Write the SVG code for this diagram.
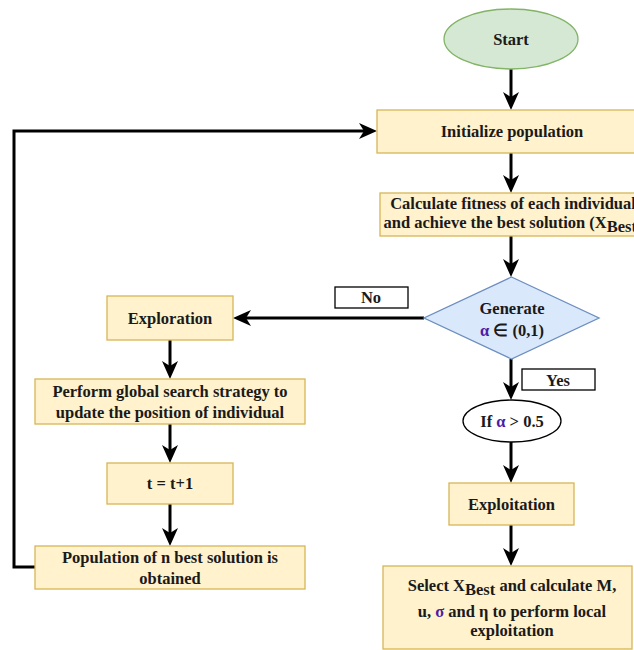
<svg xmlns="http://www.w3.org/2000/svg" width="634" height="650" viewBox="0 0 634 650" font-family="Liberation Serif, serif" font-weight="bold">
<style>
.box{fill:#fff2cc;stroke:#d6b656;stroke-width:1.3}
.lbl{fill:#ffffff;stroke:#000;stroke-width:1.3}
.t{font-family:'Liberation Serif',serif;font-weight:bold;font-size:16.5px;fill:#1a1a1a;text-anchor:middle}
.p{fill:#4c1ca8}
.c{fill:none;stroke:#000;stroke-width:3}
</style>
<defs>
<marker id="ah" markerUnits="userSpaceOnUse" markerWidth="18" markerHeight="16" refX="8" refY="8" orient="auto" viewBox="0 0 18 16">
<path d="M0,0 L18,8 L0,16 L5,8 Z" fill="#000"/>
</marker>
</defs>
<rect width="634" height="650" fill="#fff"/>
<g id="connectors">
<line class="c" x1="511" y1="69" x2="511" y2="100" marker-end="url(#ah)"/>
<line class="c" x1="511" y1="153" x2="511" y2="183" marker-end="url(#ah)"/>
<line class="c" x1="511" y1="236" x2="511" y2="267" marker-end="url(#ah)"/>
<line class="c" x1="424" y1="318" x2="243" y2="318" marker-end="url(#ah)"/>
<line class="c" x1="511" y1="359" x2="511" y2="390" marker-end="url(#ah)"/>
<line class="c" x1="511" y1="442" x2="511" y2="473" marker-end="url(#ah)"/>
<line class="c" x1="511" y1="525" x2="511" y2="556" marker-end="url(#ah)"/>
<line class="c" x1="170" y1="340" x2="170" y2="369" marker-end="url(#ah)"/>
<line class="c" x1="170" y1="424" x2="170" y2="453" marker-end="url(#ah)"/>
<line class="c" x1="170" y1="504" x2="170" y2="536" marker-end="url(#ah)"/>
<polyline class="c" points="35,567 14,567 14,131 367,131" marker-end="url(#ah)"/>
</g>
<g id="start">
<ellipse cx="511" cy="39" rx="67" ry="30" fill="#d5e8d4" stroke="#82b366" stroke-width="1.3"/>
<text class="t" x="511" y="45">Start</text>
</g>
<g id="init">
<rect class="box" x="377" y="110" width="270" height="43"/>
<text class="t" x="512" y="137">Initialize population</text>
</g>
<g id="fitness">
<rect class="box" x="380" y="193" width="266" height="43"/>
<text class="t" x="513" y="209">Calculate fitness of each individual</text>
<text class="t" x="513" y="228">and achieve the best solution (X<tspan dy="4">Best</tspan><tspan dy="-4">)</tspan></text>
</g>
<g id="generate">
<polygon points="511.5,277 599,318 511.5,359 424,318" fill="#dae8fc" stroke="#6c8ebf" stroke-width="1.3"/>
<text class="t" x="512" y="314">Generate</text>
<text class="t" x="512" y="336"><tspan class="p">α</tspan>  ∈ (0,1)</text>
</g>
<g id="no-label">
<rect class="lbl" x="335" y="287" width="73" height="21"/>
<text class="t" x="371" y="303">No</text>
</g>
<g id="yes-label">
<rect class="lbl" x="522" y="369" width="73" height="21"/>
<text class="t" x="558" y="386">Yes</text>
</g>
<g id="ifalpha">
<ellipse cx="512" cy="421" rx="49" ry="21" fill="#fff" stroke="#000" stroke-width="1.3"/>
<text class="t" x="512" y="427">If <tspan class="p">α</tspan> &gt; 0.5</text>
</g>
<g id="exploitation">
<rect class="box" x="449" y="483" width="125" height="42"/>
<text class="t" x="511.5" y="510">Exploitation</text>
</g>
<g id="select">
<rect class="box" x="383" y="566" width="249" height="83"/>
<text class="t" x="512" y="591">Select X<tspan dy="4">Best</tspan><tspan dy="-4"> and calculate M,</tspan></text>
<text class="t" x="512" y="617">u, <tspan class="p">σ</tspan> and η to perform local</text>
<text class="t" x="512" y="636">exploitation</text>
</g>
<g id="exploration">
<rect class="box" x="107" y="296" width="126" height="44"/>
<text class="t" x="170" y="324">Exploration</text>
</g>
<g id="perform">
<rect class="box" x="35" y="379" width="270" height="45"/>
<text class="t" x="170" y="397">Perform global search strategy to</text>
<text class="t" x="170" y="418">update the position of individual</text>
</g>
<g id="tplus">
<rect class="box" x="107" y="463" width="126" height="41"/>
<text class="t" x="170" y="489">t = t+1</text>
</g>
<g id="population">
<rect class="box" x="35" y="546" width="270" height="43"/>
<text class="t" x="170" y="563">Population of n best solution is</text>
<text class="t" x="170" y="584">obtained</text>
</g>
</svg>
